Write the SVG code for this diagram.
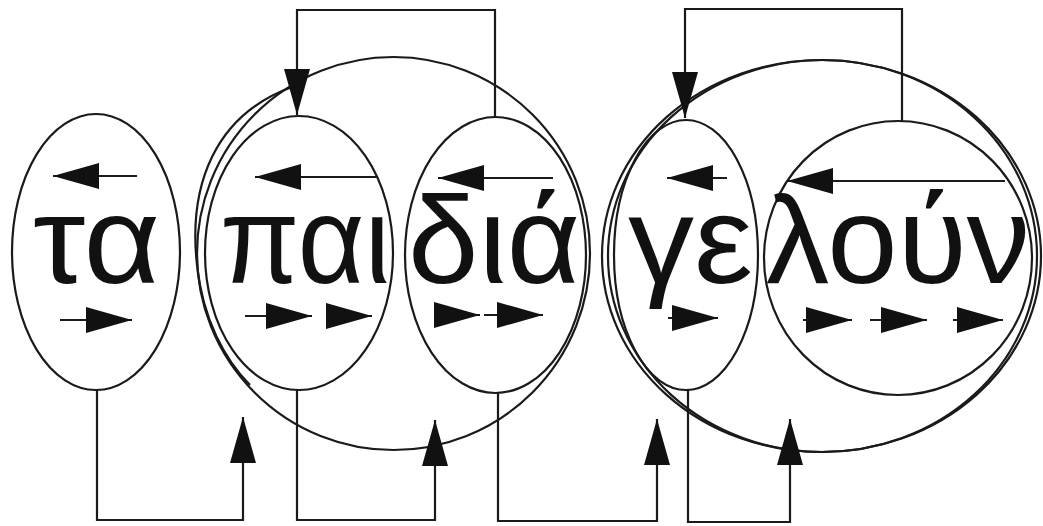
<svg xmlns="http://www.w3.org/2000/svg" width="1043" height="526" viewBox="0 0 1043 526">
  <style>
    .shape { fill: none; stroke: #1a1a1a; stroke-width: 2.2; }
    .conn { fill: none; stroke: #1a1a1a; stroke-width: 2.2; marker-end: url(#ah); }
    .word { font-family: "Liberation Sans", Arial, sans-serif; font-size: 124px; fill: #111; }
  </style>
  <defs>
    <marker id="ah" markerUnits="userSpaceOnUse" markerWidth="46" markerHeight="26" viewBox="0 0 46 26" refX="46" refY="13" orient="auto">
      <path d="M0,0 L46,13 L0,26 Z" fill="#111"/>
    </marker>
  </defs>
  <rect width="1043" height="526" fill="#ffffff"/>

  <!-- big groupings -->
  <g id="group-paidia">
    <circle class="shape" cx="393.5" cy="253.5" r="196.5"/>
    <path class="shape" d="M292,87 C215,115 188,185 197,265 C203,320 225,360 250,385"/>
  </g>
  <g id="group-geloun">
    <ellipse class="shape" cx="821.5" cy="256" rx="219.5" ry="196"/>
    <ellipse class="shape" cx="822.5" cy="256" rx="214.5" ry="196"/>
  </g>

  <!-- nodes -->
  <g id="node-ta">
    <ellipse class="shape" cx="96" cy="252" rx="84" ry="138"/>
    <text class="word" x="33" y="283" textLength="127" lengthAdjust="spacingAndGlyphs">τα</text>
  </g>
  <g id="node-pai">
    <ellipse class="shape" cx="299" cy="253" rx="94" ry="137"/>
    <text class="word" x="220" y="283" textLength="170" lengthAdjust="spacingAndGlyphs">παι</text>
  </g>
  <g id="node-dia">
    <ellipse class="shape" cx="495.5" cy="255" rx="90.5" ry="138"/>
    <text class="word" x="408" y="283" textLength="172" lengthAdjust="spacingAndGlyphs">διά</text>
  </g>
  <g id="node-ge">
    <ellipse class="shape" cx="686" cy="255" rx="72" ry="135"/>
    <text class="word" x="628" y="283" textLength="125" lengthAdjust="spacingAndGlyphs">γε</text>
  </g>
  <g id="node-loun">
    <ellipse class="shape" cx="898" cy="258" rx="134" ry="137"/>
    <text class="word" x="766" y="283" textLength="264" lengthAdjust="spacingAndGlyphs">λούν</text>
  </g>

  <!-- direction arrows inside nodes -->
  <g id="inner-arrows">
    <path class="conn" d="M137,176 L53,176"/>
    <path class="conn" d="M60,320 L132,320"/>
    <path class="conn" d="M377,177 L255,177"/>
    <path class="conn" d="M245,316 L312,316"/>
    <path class="conn" d="M326,316 L372,316"/>
    <path class="conn" d="M553,178 L438,178"/>
    <path class="conn" d="M436,315 L480,315"/>
    <path class="conn" d="M484,315 L543,315"/>
    <path class="conn" d="M727,178 L667,178"/>
    <path class="conn" d="M668,318 L718,318"/>
    <path class="conn" d="M1005,181 L787,181"/>
    <path class="conn" d="M803,320 L852,320"/>
    <path class="conn" d="M870,320 L927,320"/>
    <path class="conn" d="M953,320 L1003,320"/>
  </g>

  <!-- connectors -->
  <g id="connectors">
    <path class="conn" d="M495,117 V10 H297 V115"/>
    <path class="conn" d="M902,122 V9 H685 V118"/>
    <path class="conn" d="M97,390 V520 H243 V417"/>
    <path class="conn" d="M297,390 V520 H435 V420"/>
    <path class="conn" d="M498,393 V521 H657 V419"/>
    <path class="conn" d="M688,390 V522 H790 V419"/>
  </g>
</svg>
